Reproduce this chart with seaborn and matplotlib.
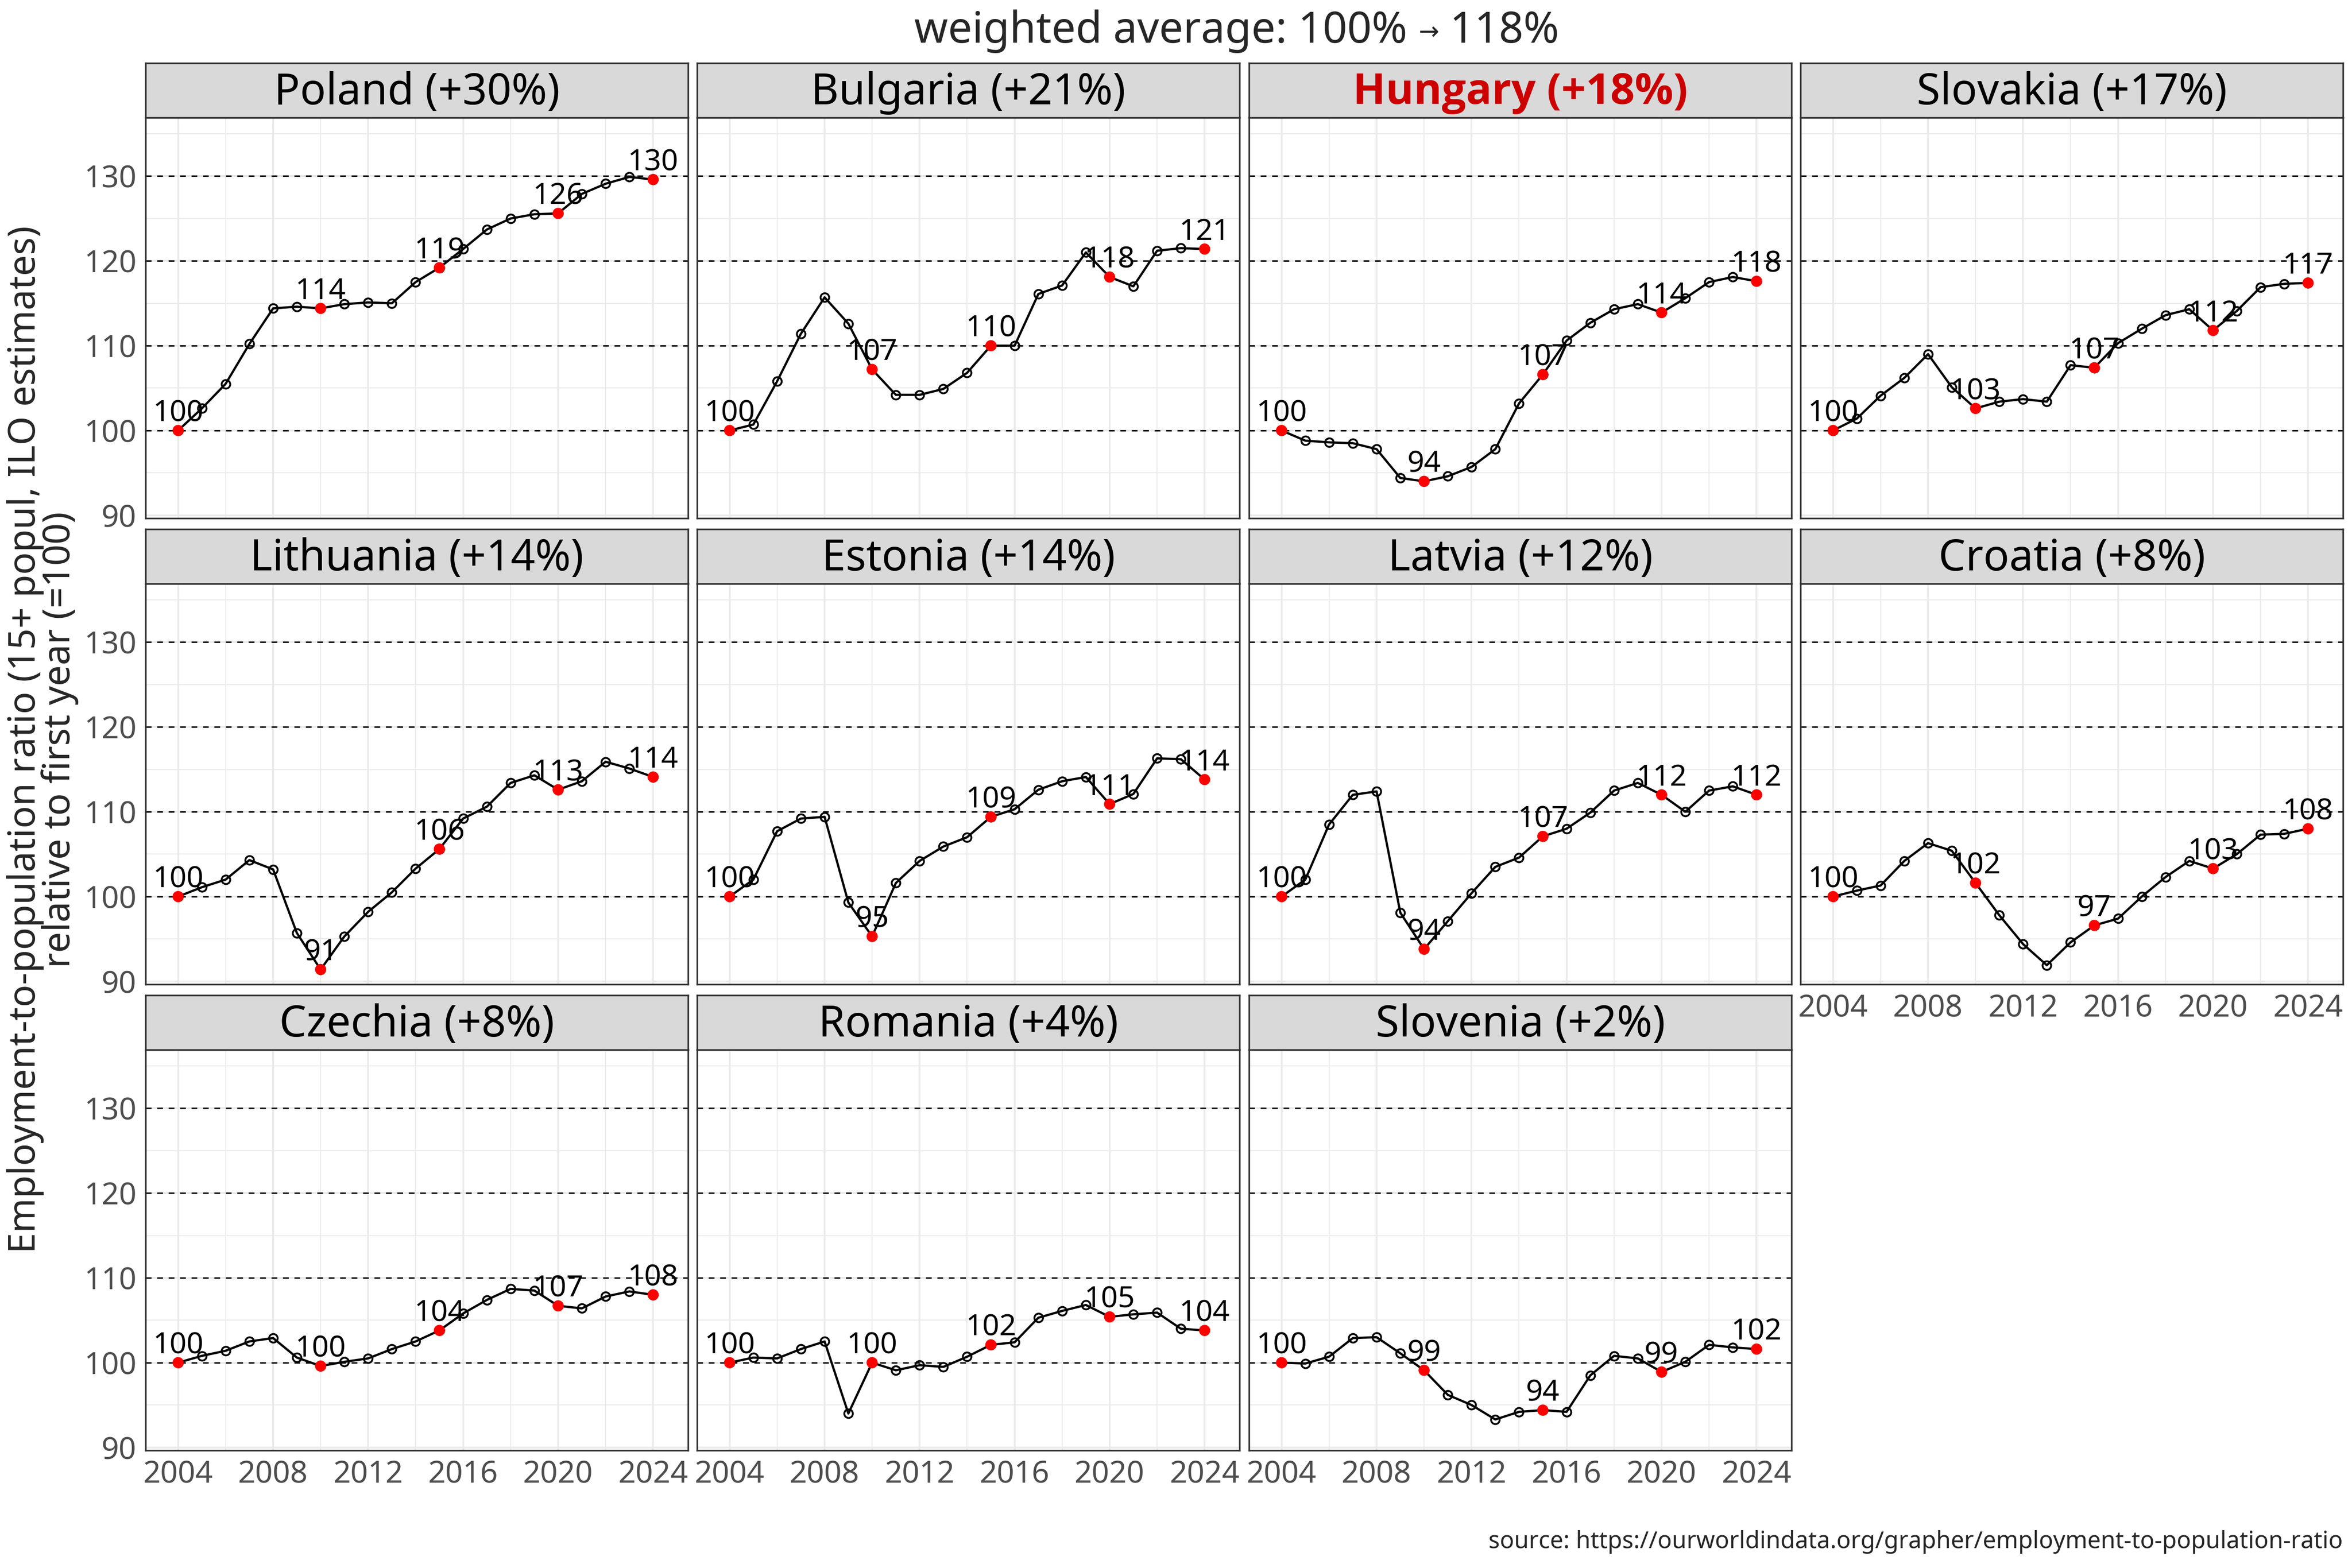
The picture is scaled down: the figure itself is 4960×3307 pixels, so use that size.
import numpy as np
import pandas as pd
import matplotlib
matplotlib.use("Agg")
import matplotlib.pyplot as plt
import seaborn as sns
from matplotlib.ticker import MultipleLocator

# ---------------- Data (index, first year = 100) ----------------
years = list(range(2004, 2025))

poland    = [100, 102.6, 105.5, 110.2, 114.4, 114.6, 114.4, 114.9, 115.1, 115.0, 117.5,
             119.2, 121.4, 123.7, 125.0, 125.5, 125.6, 127.9, 129.1, 129.9, 129.6]
bulgaria  = [100, 100.7, 105.8, 111.4, 115.7, 112.6, 107.2, 104.2, 104.2, 104.9, 106.8,
             110.0, 110.0, 116.1, 117.1, 121.0, 118.1, 117.0, 121.2, 121.5, 121.4]
hungary   = [100, 98.8, 98.6, 98.5, 97.8, 94.4, 94.0, 94.6, 95.7, 97.8, 103.2,
             106.6, 110.6, 112.7, 114.3, 114.9, 113.9, 115.6, 117.5, 118.1, 117.6]
slovakia  = [100, 101.4, 104.1, 106.2, 109.0, 105.1, 102.6, 103.4, 103.7, 103.4, 107.7,
             107.4, 110.3, 112.0, 113.6, 114.3, 111.8, 114.1, 116.9, 117.3, 117.4]
lithuania = [100, 101.1, 102.0, 104.3, 103.2, 95.7, 91.4, 95.3, 98.2, 100.5, 103.3,
             105.6, 109.2, 110.6, 113.4, 114.3, 112.6, 113.6, 115.9, 115.1, 114.1]
estonia   = [100, 102.0, 107.7, 109.2, 109.4, 99.3, 95.3, 101.6, 104.2, 105.9, 107.0,
             109.4, 110.3, 112.6, 113.6, 114.1, 110.9, 112.1, 116.3, 116.2, 113.8]
latvia    = [100, 102.0, 108.5, 112.0, 112.4, 98.1, 93.8, 97.1, 100.4, 103.5, 104.6,
             107.1, 108.0, 109.9, 112.5, 113.4, 112.0, 110.0, 112.5, 113.0, 112.0]
croatia   = [100, 100.7, 101.3, 104.2, 106.3, 105.4, 101.6, 97.8, 94.4, 91.9, 94.6,
             96.6, 97.4, 100.0, 102.3, 104.2, 103.3, 105.0, 107.3, 107.4, 108.0]
czechia   = [100, 100.8, 101.4, 102.5, 102.9, 100.6, 99.6, 100.1, 100.5, 101.6, 102.5,
             103.8, 105.8, 107.4, 108.7, 108.5, 106.7, 106.4, 107.8, 108.4, 108.0]
romania   = [100, 100.6, 100.5, 101.6, 102.5, 94.0, 100.0, 99.1, 99.7, 99.5, 100.7,
             102.1, 102.4, 105.3, 106.1, 106.8, 105.4, 105.7, 105.9, 104.0, 103.8]
slovenia  = [100, 99.9, 100.7, 102.9, 103.0, 101.1, 99.1, 96.2, 95.0, 93.3, 94.2,
             94.4, 94.2, 98.5, 100.8, 100.5, 98.9, 100.1, 102.1, 101.8, 101.6]

countries = ["Poland", "Bulgaria", "Hungary", "Slovakia", "Lithuania", "Estonia",
             "Latvia", "Croatia", "Czechia", "Romania", "Slovenia"]
values = [poland, bulgaria, hungary, slovakia, lithuania, estonia,
          latvia, croatia, czechia, romania, slovenia]

labelled_years = [2004, 2010, 2015, 2020, 2024]
ref_lines = [100, 110, 120, 130]
highlight = "Hungary"

title_left = "weighted average: 100% "
title_arrow = "\u2192"
title_right = " 118%"
ylabel = "Employment-to-population ratio (15+ popul, ILO estimates)\nrelative to first year (=100)"
source = "source: https://ourworldindata.org/grapher/employment-to-population-ratio"

df = pd.concat([pd.DataFrame({"country": c, "year": years, "value": v})
                for c, v in zip(countries, values)], ignore_index=True)

# ---------------- Style ----------------
sns.set_theme(style="white")
plt.rcParams["font.family"] = ["Noto Sans", "DejaVu Sans"]

W, H = 4960, 3307
fig = plt.figure(figsize=(W / 310, H / 310), dpi=310)
fig.patch.set_facecolor("white")

lefts = [307, 1470, 2634, 3797]     # panel left edges, px
tops = [248, 1231, 2214]            # panel top edges (below strip), px
panel_w, panel_h, strip_h = 1144, 845, 115
border = "#333333"

for i, country in enumerate(countries):
    r, c = divmod(i, 4)
    left, top = lefts[c], tops[r]
    ax = fig.add_axes([left / W, 1 - (top + panel_h) / H, panel_w / W, panel_h / H])
    sax = fig.add_axes([left / W, 1 - top / H, panel_w / W, strip_h / H])

    sub = df[df["country"] == country]
    lab = sub[sub["year"].isin(labelled_years)]

    # grid + reference lines
    ax.set_xlim(2002.63, 2025.47)
    ax.set_ylim(89.65, 136.9)
    ax.xaxis.set_major_locator(MultipleLocator(4))
    ax.xaxis.set_minor_locator(MultipleLocator(2))
    ax.yaxis.set_major_locator(MultipleLocator(10))
    ax.yaxis.set_minor_locator(MultipleLocator(5))
    ax.grid(which="major", color="#EBEBEB", lw=0.9)
    ax.grid(which="minor", color="#EBEBEB", lw=0.5)
    ax.set_axisbelow(True)
    for v in ref_lines:
        ax.axhline(v, color="black", ls=(0, (4, 4)), lw=0.7, zorder=1.5)

    sns.lineplot(data=sub, x="year", y="value", ax=ax, color="black", linewidth=1.1,
                 marker="o", markersize=4.2, markerfacecolor="none",
                 markeredgecolor="black", markeredgewidth=0.9, estimator=None, zorder=3)
    sns.scatterplot(data=lab, x="year", y="value", ax=ax, color="red", s=30,
                    edgecolor="none", linewidth=0, zorder=4)
    for _, row in lab.iterrows():
        ax.annotate(f"{row['value']:.0f}", (row["year"], row["value"]), xytext=(0, 4.5),
                    textcoords="offset points", ha="center", va="baseline",
                    fontsize=14.5, color="black", zorder=5)

    ax.set_xlabel("")
    ax.set_ylabel("")
    for s in ax.spines.values():
        s.set_color(border)
        s.set_linewidth(0.8)
    ax.tick_params(which="minor", length=0)
    ax.tick_params(which="major", length=3, width=0.8, color=border,
                   labelsize=15, labelcolor="#4D4D4D", pad=1.5)
    if c != 0:
        ax.tick_params(axis="y", left=False, labelleft=False)
    if i < 7:
        ax.tick_params(axis="x", bottom=False, labelbottom=False)

    # strip
    sax.set_facecolor("#D9D9D9")
    sax.set_xticks([])
    sax.set_yticks([])
    for s in sax.spines.values():
        s.set_color(border)
        s.set_linewidth(0.8)
    growth = sub["value"].iloc[-1] - 100
    strip_label = f"{country} (+{growth:.0f}%)"
    if country == highlight:
        sax.text(0.5, 0.45, strip_label, ha="center", va="center", fontsize=21,
                 color="#CC0000", fontweight="bold",
                 family=["Open Sans", "Roboto", "DejaVu Sans"], transform=sax.transAxes)
    else:
        sax.text(0.5, 0.45, strip_label, ha="center", va="center", fontsize=21,
                 color="black", transform=sax.transAxes)

# title: the arrow is drawn smaller, as in the original
t1 = fig.text(2624 / W, 1 - 66 / H, title_left + title_arrow + title_right,
              ha="center", va="center", fontsize=21, color="none")
fig.canvas.draw()
bb = t1.get_window_extent()
x0 = bb.x0 / fig.bbox.width
ta = fig.text(x0, 1 - 66 / H, title_left, ha="left", va="center", fontsize=21)
fig.canvas.draw()
xa = ta.get_window_extent().x1 / fig.bbox.width
tb = fig.text(xa, 1 - 70 / H, title_arrow, ha="left", va="center", fontsize=12)
fig.canvas.draw()
xb = tb.get_window_extent().x1 / fig.bbox.width
fig.text(xb, 1 - 66 / H, title_right, ha="left", va="center", fontsize=21)
t1.remove()

fig.text(90 / W, 1 - 1560 / H, ylabel, rotation=90, ha="center", va="center",
         fontsize=18.2, linespacing=0.88, multialignment="center")
fig.text(4941 / W, 1 - 3252 / H, source, ha="right", va="center", fontsize=11.6)

fig.savefig("out.png", dpi=310)
